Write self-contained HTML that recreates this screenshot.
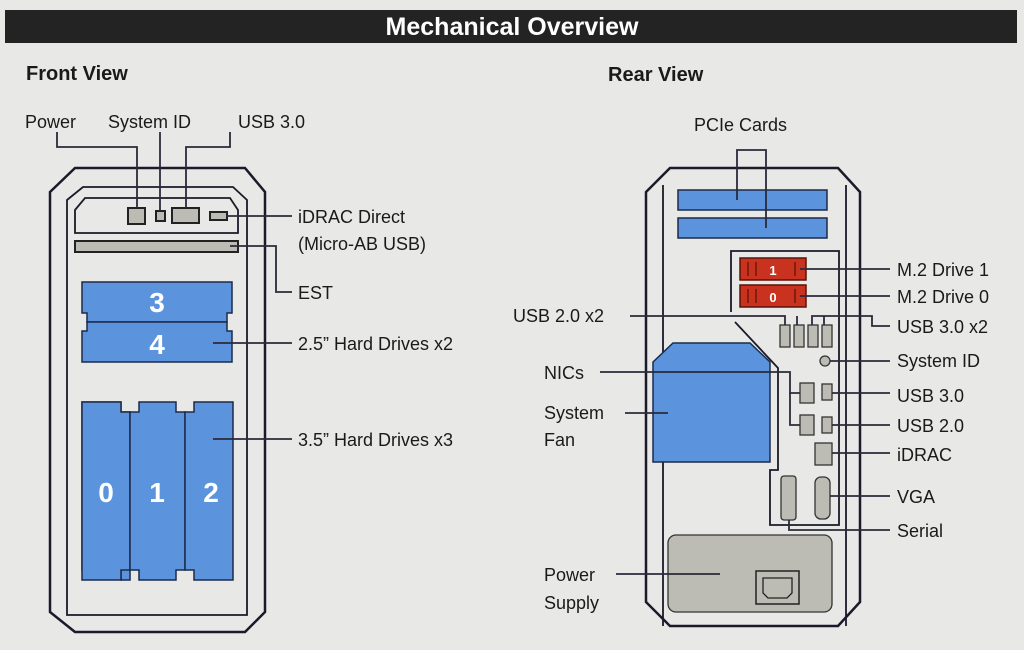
<!DOCTYPE html>
<html><head><style>
html,body{margin:0;padding:0;background:#e8e8e6;}
svg{display:block;}
text{font-family:"Liberation Sans",sans-serif;fill:#1a1a1a;}
</style></head><body>
<svg width="1024" height="650" viewBox="0 0 1024 650" xmlns="http://www.w3.org/2000/svg">
<rect width="1024" height="650" fill="#e8e8e6"/>
<rect x="5" y="10" width="1012" height="33" fill="#232323"/>
<text x="512" y="35" text-anchor="middle" font-size="25" font-weight="bold" style="fill:#fff">Mechanical Overview</text>
<text x="26" y="80" font-size="20" font-weight="bold">Front View</text>
<text x="608" y="81" font-size="20" font-weight="bold">Rear View</text>

<g stroke="#1a1a2a" fill="none" stroke-width="2.5">
<!-- front chassis -->
<path d="M50,192 L75,168 L245,168 L265,192 L265,612 L245,632 L75,632 L50,612 Z"/>
<path d="M67,200 L83,187 L233,187 L247,200 L247,615 L67,615 Z" stroke-width="1.8"/>
<path d="M75,210 L85,198 L230,198 L238,210 L238,233 L75,233 Z" stroke-width="1.8"/>
<!-- rear chassis -->
<path d="M646,192 L670,168 L838,168 L860,192 L860,602 L838,626 L670,626 L646,602 Z"/>
<path d="M663,626 L663,185 M846,185 L846,626" stroke-width="1.8"/>
<path d="M731,312 L731,251 L839,251 L839,525 L770,525 L770,470 L778,470 L778,368 L735,322" stroke-width="1.8"/>
</g>

<!-- front top ports -->
<g stroke="#222" stroke-width="2" fill="#bcbcb4">
<rect x="128" y="208" width="17" height="16"/>
<rect x="156" y="211" width="9" height="10"/>
<rect x="172" y="208" width="27" height="15"/>
<rect x="210" y="212" width="17" height="8"/>
<rect x="75" y="241" width="163" height="11"/>
</g>

<!-- 2.5 drives -->
<g fill="#5b93dc" stroke="#1c2a4a" stroke-width="1.5">
<path d="M82,282 L232,282 L232,313 L227,313 L227,322 L87,322 L87,313 L82,313 Z"/>
<path d="M87,322 L227,322 L227,331 L232,331 L232,362 L82,362 L82,331 L87,331 Z"/>
<path d="M82,402 L121,402 L121,412 L130,412 L130,580 L121,580 L121,570 L82,570 Z" transform="translate(0,0)"/>
<path d="M82,402 L121,402 L121,412 L130,412 L130,570 L121,570 L121,580 L82,580 Z"/>
<path d="M130,412 L139,412 L139,402 L176,402 L176,412 L185,412 L185,570 L176,570 L176,580 L139,580 L139,570 L130,570 Z"/>
<path d="M185,412 L194,412 L194,402 L233,402 L233,580 L194,580 L194,570 L185,570 Z"/>
</g>
<g font-weight="bold" font-size="28" text-anchor="middle" style="fill:#fff">
<text x="157" y="312" style="fill:#fff">3</text>
<text x="157" y="354" style="fill:#fff">4</text>
<text x="106" y="502" style="fill:#fff">0</text>
<text x="157" y="502" style="fill:#fff">1</text>
<text x="211" y="502" style="fill:#fff">2</text>
</g>

<!-- rear components -->
<g fill="#5b93dc" stroke="#1c2a4a" stroke-width="1.5">
<rect x="678" y="190" width="149" height="20"/>
<rect x="678" y="218" width="149" height="20"/>
<path d="M653,362 L673,343 L750,343 L770,362 L770,462 L653,462 Z"/>
</g>
<g fill="#c8321e" stroke="#5a1208" stroke-width="1.5">
<rect x="740" y="258" width="66" height="22"/>
<rect x="740" y="285" width="66" height="22"/>
</g>
<g stroke="#5a1208" stroke-width="1.2" fill="none">
<path d="M748,262v14 M756,262v14 M795,262v14 M748,289v14 M756,289v14 M795,289v14"/>
</g>
<text x="773" y="275" font-size="13" font-weight="bold" text-anchor="middle" style="fill:#fff">1</text>
<text x="773" y="302" font-size="13" font-weight="bold" text-anchor="middle" style="fill:#fff">0</text>
<g fill="#bcbcb4" stroke="#333" stroke-width="1.3">
<rect x="780" y="325" width="10" height="22"/><rect x="794" y="325" width="10" height="22"/>
<rect x="808" y="325" width="10" height="22"/><rect x="822" y="325" width="10" height="22"/>
<circle cx="825" cy="361" r="5"/>
<rect x="800" y="383" width="14" height="20"/><rect x="822" y="384" width="10" height="16"/>
<rect x="800" y="415" width="14" height="20"/><rect x="822" y="417" width="10" height="16"/>
<rect x="815" y="443" width="17" height="22"/>
<rect x="781" y="476" width="15" height="44" rx="3"/>
<rect x="815" y="477" width="15" height="42" rx="6"/>
<rect x="668" y="535" width="164" height="77" rx="8"/>
</g>
<rect x="756" y="571" width="43" height="33" fill="none" stroke="#222" stroke-width="1.5"/>
<path d="M763,578 L792,578 L792,593 L787,598 L768,598 L763,593 Z" fill="none" stroke="#222" stroke-width="1.3"/>

<!-- leader lines -->
<g stroke="#2a2a3a" stroke-width="1.8" fill="none">
<path d="M57,132 V147 H137 V208"/>
<path d="M160,132 V211"/>
<path d="M186,208 V147 H230 V132"/>
<path d="M227,216 H292"/>
<path d="M230,246 H276 V292 H292"/>
<path d="M213,343 H292"/>
<path d="M213,439 H292"/>
<path d="M737,200 V150 H766 V228"/>
<path d="M800,269 H890 M800,296 H890"/>
<path d="M630,316 H785 V325 M797,316 V325 M812,325 V316 H824 V325 M824,316 H872 V326 H890"/>
<path d="M830,361 H890"/>
<path d="M600,372 H790 V393 H800"/>
<path d="M790,393 V425 H800"/>
<path d="M832,393 H890 M832,425 H890 M832,453 H890 M830,496 H890"/>
<path d="M789,520 V530 H890"/>
<path d="M625,413 H668"/>
<path d="M616,574 H720"/>
</g>

<g font-size="18">
<text x="25" y="128">Power</text>
<text x="108" y="128">System ID</text>
<text x="238" y="128">USB 3.0</text>
<text x="298" y="223">iDRAC Direct</text>
<text x="298" y="250">(Micro-AB USB)</text>
<text x="298" y="299">EST</text>
<text x="298" y="350">2.5” Hard Drives x2</text>
<text x="298" y="446">3.5” Hard Drives x3</text>
<text x="694" y="131">PCIe Cards</text>
<text x="897" y="276">M.2 Drive 1</text>
<text x="897" y="303">M.2 Drive 0</text>
<text x="513" y="322">USB 2.0 x2</text>
<text x="897" y="333">USB 3.0 x2</text>
<text x="897" y="367">System ID</text>
<text x="544" y="379">NICs</text>
<text x="897" y="402">USB 3.0</text>
<text x="544" y="419">System</text>
<text x="544" y="446">Fan</text>
<text x="897" y="432">USB 2.0</text>
<text x="897" y="461">iDRAC</text>
<text x="897" y="503">VGA</text>
<text x="897" y="537">Serial</text>
<text x="544" y="581">Power</text>
<text x="544" y="609">Supply</text>
</g>
</svg>
</body></html>
